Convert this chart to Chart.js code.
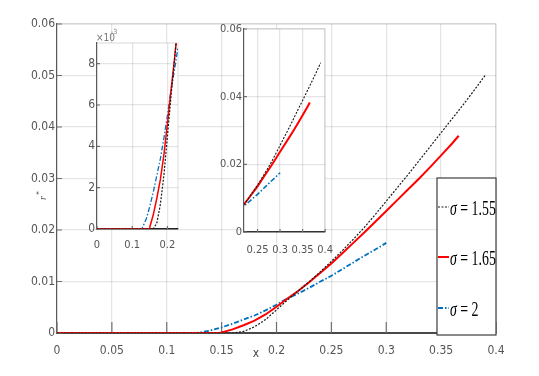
<!DOCTYPE html>
<html>
<head>
<meta charset="utf-8">
<script src="https://cdn.jsdelivr.net/npm/chart.js@4.4.1/dist/chart.umd.min.js"></script>
<style>
  html, body { margin: 0; padding: 0; background: #fff; }
  #wrap { position: relative; width: 539px; height: 376px; overflow: hidden; }
  canvas { position: absolute; }
</style>
</head>
<body>
<div id="wrap">
  <canvas id="mainChart" width="539" height="376" style="left:0;top:0"></canvas>
  <canvas id="inset1" width="130" height="235" style="left:60px;top:25px"></canvas>
  <canvas id="inset2" width="145" height="250" style="left:200px;top:15px"></canvas>
</div>
<script>
// sigma = 1.55
const x155 = [0, 0.16, 0.17, 0.18, 0.19, 0.20, 0.21, 0.22, 0.23, 0.24, 0.25, 0.26, 0.27,
  0.28, 0.29, 0.30, 0.31, 0.32, 0.33, 0.34, 0.35, 0.36, 0.37, 0.38, 0.39];
const r155 = [0, 0, 0.0003, 0.0012, 0.0026, 0.0045, 0.0064, 0.0082, 0.0100, 0.0119, 0.0139, 0.0160, 0.0182,
  0.0205, 0.0230, 0.0256, 0.0282, 0.0308, 0.0335, 0.0362, 0.0389, 0.0416, 0.0443, 0.0471, 0.0500];

// sigma = 1.65
const x165 = [0, 0.148, 0.15, 0.16, 0.17, 0.18, 0.19, 0.20, 0.21, 0.22, 0.23, 0.24, 0.25,
  0.26, 0.27, 0.28, 0.29, 0.30, 0.31, 0.32, 0.33, 0.34, 0.35, 0.36, 0.366];
const r165 = [0, 0, 0.0001, 0.0007, 0.0015, 0.0024, 0.0036, 0.0051, 0.0067, 0.0082, 0.0099, 0.0117, 0.0135,
  0.0155, 0.0175, 0.0195, 0.0216, 0.0237, 0.0258, 0.0279, 0.0300, 0.0322, 0.0345, 0.0368, 0.0383];

// sigma = 2
const x2 = [0, 0.127, 0.13, 0.14, 0.15, 0.16, 0.17, 0.18, 0.19, 0.20, 0.21, 0.22, 0.23,
  0.24, 0.25, 0.26, 0.27, 0.28, 0.29, 0.30];
const r2 = [0, 0, 0.0001, 0.0005, 0.0011, 0.0018, 0.0026, 0.0034, 0.0044, 0.0055, 0.0067, 0.0077, 0.0088,
  0.0100, 0.0111, 0.0124, 0.0137, 0.0150, 0.0162, 0.0175];

const sigmaLabels = ["1.55", "1.65", "2"];

const mainXTicks = [0, 0.05, 0.1, 0.15, 0.2, 0.25, 0.3, 0.35, 0.4];
const mainXLabels = ["0", "0.05", "0.1", "0.15", "0.2", "0.25", "0.3", "0.35", "0.4"];
const mainYTicks = [0, 0.01, 0.02, 0.03, 0.04, 0.05, 0.06];
const mainYLabels = ["0", "0.01", "0.02", "0.03", "0.04", "0.05", "0.06"];

const in1XTicks = [0, 0.1, 0.2];
const in1XLabels = ["0", "0.1", "0.2"];
const in1YTicks = [0, 0.002, 0.004, 0.006, 0.008];
const in1YLabels = ["0", "2", "4", "6", "8"];

const in2XTicks = [0.25, 0.3, 0.35, 0.4];
const in2XLabels = ["0.25", "0.3", "0.35", "0.4"];
const in2YTicks = [0, 0.02, 0.04, 0.06];
const in2YLabels = ["0", "0.02", "0.04", "0.06"];

const TICK_FONT = "'Liberation Sans Narrow', 'DejaVu Sans Condensed', 'Liberation Sans', sans-serif";
const GRID = "rgba(0, 0, 0, 0.1)";

function toPoints(xs, ys) {
  return xs.map((x, i) => ({ x: x, y: ys[i] }));
}

function makeDatasets(w) {
  return [
    {
      label: "σ = " + sigmaLabels[0],
      data: toPoints(x155, r155),
      borderColor: "#1a1a1a",
      borderWidth: w[0],
      borderDash: [2, 1.5],
    },
    {
      label: "σ = " + sigmaLabels[1],
      data: toPoints(x165, r165),
      borderColor: "#ff0000",
      borderWidth: w[1],
    },
    {
      label: "σ = " + sigmaLabels[2],
      data: toPoints(x2, r2),
      borderColor: "#0072bd",
      borderWidth: w[2],
      borderDash: [5, 2, 1.5, 2],
    },
  ].map((d) => Object.assign(d, { pointRadius: 0, fill: false, tension: 0 }));
}

function axis(cfg) {
  return {
    type: "linear",
    min: cfg.min,
    max: cfg.max,
    afterBuildTicks: (s) => {
      s.ticks = cfg.ticks.map((v) => ({ value: v }));
    },
    afterFit: (s) => {
      if (cfg.width !== undefined) s.width = cfg.width;
      if (cfg.height !== undefined) s.height = cfg.height;
    },
    grid: { color: GRID, lineWidth: 1.3, drawTicks: false },
    border: { color: cfg.borderColor, width: cfg.borderWidth },
    ticks: {
      autoSkip: false,
      maxRotation: 0,
      padding: cfg.padding,
      color: "#555",
      font: { family: TICK_FONT, size: cfg.fontSize },
      callback: (v, i) => cfg.labels[i],
    },
  };
}

// white plot area, light top/right frame, inward tick marks
const framePlugin = {
  id: "frame",
  beforeDraw(chart, args, o) {
    if (!o.fill) return;
    const a = chart.chartArea;
    chart.ctx.save();
    chart.ctx.fillStyle = "#fff";
    chart.ctx.fillRect(a.left, a.top, a.right - a.left, a.bottom - a.top);
    chart.ctx.restore();
  },
  beforeDatasetsDraw(chart, args, o) {
    const { ctx, chartArea: a, scales } = chart;
    ctx.save();
    ctx.strokeStyle = GRID;
    ctx.lineWidth = 1.3;
    ctx.beginPath();
    ctx.moveTo(a.left, a.top);
    ctx.lineTo(a.right, a.top);
    ctx.lineTo(a.right, a.bottom);
    ctx.stroke();
    ctx.strokeStyle = "#707070";
    ctx.lineWidth = 1.2;
    ctx.beginPath();
    scales.x.ticks.forEach((t) => {
      const px = scales.x.getPixelForValue(t.value);
      ctx.moveTo(px, a.bottom);
      ctx.lineTo(px, a.bottom - o.xLen);
    });
    scales.y.ticks.forEach((t) => {
      const py = scales.y.getPixelForValue(t.value);
      ctx.moveTo(a.left, py);
      ctx.lineTo(a.left + o.yLen, py);
    });
    ctx.stroke();
    ctx.restore();
  },
};

const mainNotes = {
  id: "mainNotes",
  afterDraw(chart, args, o) {
    const ctx = chart.ctx;
    ctx.save();
    // axis titles
    ctx.fillStyle = "#444";
    ctx.font = "12px " + TICK_FONT;
    ctx.textAlign = "center";
    ctx.fillText("x", 256, 357);
    ctx.save();
    ctx.translate(46, 198);
    ctx.rotate(-Math.PI / 2);
    ctx.font = "italic 10px 'Liberation Serif'";
    ctx.fillText("r", 0, 0);
    ctx.font = "8px 'Liberation Serif'";
    ctx.fillText("*", 5, -4);
    ctx.restore();

    // legend
    const b = o.box;
    ctx.fillStyle = "#fff";
    ctx.fillRect(b.left, b.top, b.right - b.left, b.bottom - b.top);
    ctx.strokeStyle = "#3c3c3c";
    ctx.lineWidth = 1.2;
    ctx.strokeRect(b.left, b.top, b.right - b.left, b.bottom - b.top);
    chart.data.datasets.forEach((ds, i) => {
      const yy = o.rows[i];
      ctx.strokeStyle = ds.borderColor;
      ctx.lineWidth = ds.borderWidth;
      ctx.setLineDash(ds.borderDash || []);
      ctx.beginPath();
      ctx.moveTo(b.left + 1, yy);
      ctx.lineTo(b.left + 12, yy);
      ctx.stroke();
      ctx.setLineDash([]);
      ctx.save();
      ctx.translate(b.left + 13, yy + 8);
      ctx.scale(0.63, 1);
      ctx.fillStyle = "#000";
      ctx.textAlign = "left";
      ctx.font = "italic 22px 'Liberation Serif'";
      ctx.fillText("σ", 0, 0);
      const w = ctx.measureText("σ").width;
      ctx.font = "22px 'Liberation Serif'";
      ctx.fillText(" = " + sigmaLabels[i], w, 0);
      ctx.restore();
    });
    ctx.restore();
  },
};

const expNote = {
  id: "expNote",
  afterDraw(chart) {
    const ctx = chart.ctx;
    ctx.save();
    ctx.fillStyle = "#777";
    ctx.font = "10px " + TICK_FONT;
    ctx.fillText("×10", 36, 16);
    ctx.font = "7px " + TICK_FONT;
    ctx.fillText("-3", 51, 9);
    ctx.restore();
  },
};

const mainChart = new Chart(document.getElementById("mainChart"), {
  type: "line",
  data: { datasets: makeDatasets([1.2, 2, 1.8]) },
  options: {
    responsive: false,
    animation: false,
    devicePixelRatio: 1,
    layout: { padding: { left: 0, top: 24, right: 43, bottom: 13 } },
    plugins: {
      legend: { display: false },
      tooltip: { enabled: false },
      frame: { fill: false, xLen: 11, yLen: 5 },
      mainNotes: {
        box: { left: 437, top: 178, right: 496, bottom: 335 },
        rows: [207, 257, 308],
      },
    },
    scales: {
      x: axis({ min: 0, max: 0.4, ticks: mainXTicks, labels: mainXLabels, height: 30,
        padding: 11, fontSize: 12, borderColor: "#4a4a4a", borderWidth: 2 }),
      y: axis({ min: 0, max: 0.06, ticks: mainYTicks, labels: mainYLabels, width: 57,
        padding: 2, fontSize: 12, borderColor: "#5a5a5a", borderWidth: 1.2 }),
    },
  },
  plugins: [framePlugin, mainNotes],
});

const inset1 = new Chart(document.getElementById("inset1"), {
  type: "line",
  data: { datasets: makeDatasets([1.2, 1.5, 1.3]) },
  options: {
    responsive: false,
    animation: false,
    devicePixelRatio: 1,
    layout: { padding: { left: 0, top: 18, right: 12, bottom: 0 } },
    plugins: {
      legend: { display: false },
      tooltip: { enabled: false },
      frame: { fill: true, xLen: 3, yLen: 3 },
    },
    scales: {
      x: axis({ min: 0, max: 0.23, ticks: in1XTicks, labels: in1XLabels, height: 31,
        padding: 10, fontSize: 11, borderColor: "#222", borderWidth: 1.5 }),
      y: axis({ min: 0, max: 0.009, ticks: in1YTicks, labels: in1YLabels, width: 37,
        padding: 2, fontSize: 12, borderColor: "#5a5a5a", borderWidth: 1.2 }),
    },
  },
  plugins: [framePlugin, expNote],
});

const inset2 = new Chart(document.getElementById("inset2"), {
  type: "line",
  data: { datasets: makeDatasets([1.1, 2, 1.6]) },
  options: {
    responsive: false,
    animation: false,
    devicePixelRatio: 1,
    layout: { padding: { left: 0, top: 14, right: 13, bottom: 0 } },
    plugins: {
      legend: { display: false },
      tooltip: { enabled: false },
      frame: { fill: true, xLen: 3, yLen: 3 },
    },
    scales: {
      x: axis({ min: 0.22, max: 0.4, ticks: in2XTicks, labels: in2XLabels, height: 33,
        padding: 12, fontSize: 11, borderColor: "#333", borderWidth: 1.5 }),
      y: axis({ min: 0, max: 0.06, ticks: in2YTicks, labels: in2YLabels, width: 44,
        padding: 2, fontSize: 11, borderColor: "#5a5a5a", borderWidth: 1.2 }),
    },
  },
  plugins: [framePlugin],
});
</script>
</body>
</html>
